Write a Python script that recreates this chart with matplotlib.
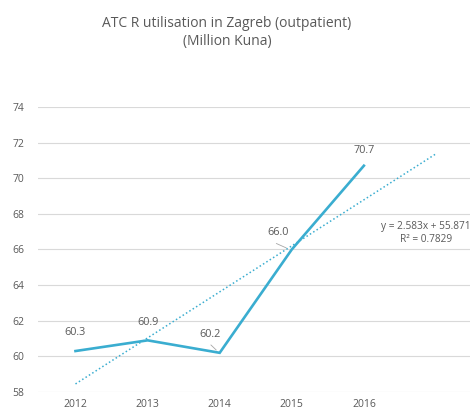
import numpy as np
import matplotlib.pyplot as plt

# ---- data ----
years = ["2012", "2013", "2014", "2015", "2016"]
values = [60.3, 60.9, 60.2, 66.0, 70.7]
labels = ["60.3", "60.9", "60.2", "66.0", "70.7"]

# excel linear trendline (x = 1..n), forecast one period forward
slope = 2.583
intercept = 55.871
r2 = 0.7829

line_col = "#3AADD0"
text_col = "#595959"
plt.rcParams['font.family'] = ['Open Sans', 'DejaVu Sans']

fig = plt.figure(figsize=(4.72, 4.12), dpi=100)
ax = fig.add_axes([0.0805, 0.0485, 0.915, 0.692])

x = np.arange(len(years))
ax.plot(x, values, color=line_col, lw=1.9, solid_joinstyle="miter", zorder=3)

# trendline
xt = np.arange(len(years) + 1)
yt = slope * (xt + 1) + intercept
ax.plot([xt[0], xt[-1]], [yt[0], yt[-1]], color=line_col, lw=1.1,
        linestyle=(0, (1, 1.6)), zorder=2)

# data labels (offsets in points)
offsets = [(0, 13), (0, 12.5), (-7, 13), (-10, 12.5), (0, 11)]
for i, (v, lab) in enumerate(zip(values, labels)):
    dx, dy = offsets[i]
    ax.annotate(lab, (x[i], v), xytext=(dx, dy), textcoords="offset points",
                ha="center", va="center", fontsize=7.8, color=text_col)
# leader lines
ax.annotate("", (x[2] - 0.02, values[2] + 0.05), xytext=(x[2] - 0.15, values[2] + 0.55),
            arrowprops=dict(arrowstyle="-", color="#A6A6A6", lw=0.6))
ax.annotate("", (x[3] - 0.04, values[3] + 0.02), xytext=(x[3] - 0.25, values[3] + 0.4),
            arrowprops=dict(arrowstyle="-", color="#A6A6A6", lw=0.6))

ax.text(4.86, 66.95, "y = %.3fx + %.3f\nR² = %.4f" % (slope, intercept, r2),
        ha="center", va="center", fontsize=7.3, color=text_col, linespacing=1.25)

ax.set_xlim(-0.52, 5.47)
ax.set_ylim(58, 74)
ax.set_yticks(np.arange(58, 75, 2))
ax.set_xticks(x)
ax.set_xticklabels(years)
ax.grid(axis="y", color="#D9D9D9", lw=0.8)
ax.set_axisbelow(True)
for s in ax.spines.values():
    s.set_visible(False)
ax.tick_params(length=0, labelsize=7.5, colors=text_col, pad=5)
ax.tick_params(axis="y", pad=10)

fig.text(0.481, 0.962, "ATC R utilisation in Zagreb (outpatient)\n(Million Kuna)",
         ha="center", va="top", fontsize=10, color=text_col, linespacing=1.3)

fig.savefig("out.png", dpi=100)
